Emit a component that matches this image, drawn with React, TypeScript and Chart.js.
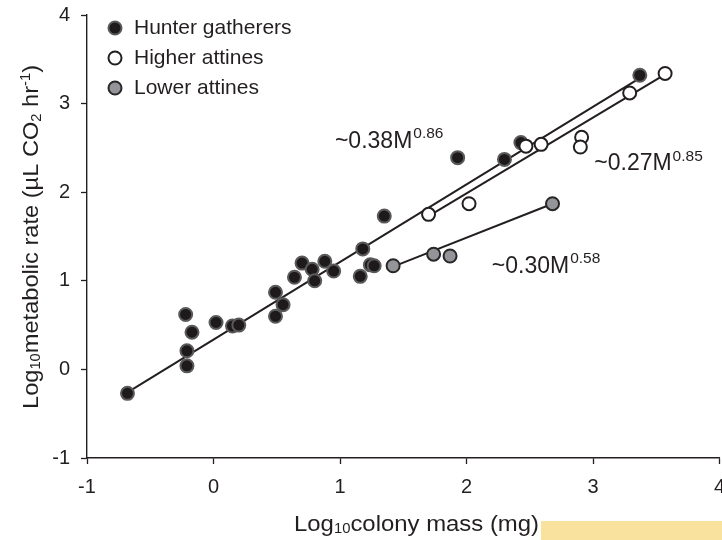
import React, { useEffect, useRef } from 'react';
import { Chart, registerables } from 'chart.js';

Chart.register(...registerables);

const FONT = '"Liberation Sans", Arial, Helvetica, sans-serif';
const INK = '#231f20';

// ---- data (log10 colony mass, log10 metabolic rate) ----
const hunterX = [-0.68, -0.22, -0.17, -0.21, -0.21, 0.02, 0.15, 0.2, 0.49, 0.55, 0.49, 0.64, 0.7, 0.78, 0.88, 0.8, 0.95, 1.16, 1.24, 1.27, 1.18, 1.35, 1.93, 2.3, 2.43, 3.37];
const hunterY = [-0.27, 0.62, 0.42, 0.21, 0.04, 0.53, 0.49, 0.5, 0.87, 0.73, 0.6, 1.04, 1.2, 1.13, 1.22, 1.0, 1.11, 1.05, 1.18, 1.17, 1.36, 1.73, 2.39, 2.37, 2.56, 3.32];

const higherX = [1.7, 2.02, 2.47, 2.59, 2.91, 2.9, 3.29, 3.57];
const higherY = [1.75, 1.87, 2.52, 2.54, 2.62, 2.51, 3.12, 3.34];

const lowerX = [1.42, 1.74, 1.87, 2.68];
const lowerY = [1.17, 1.3, 1.28, 1.87];

// fitted lines (end points)
const hunterFitX = [-0.68, 3.36];
const hunterFitY = [-0.26, 3.28];
const higherFitX = [1.7, 3.57];
const higherFitY = [1.73, 3.33];
const lowerFitX = [1.42, 2.68];
const lowerFitY = [1.16, 1.87];

const seriesNames = ['Hunter gatherers', 'Higher attines', 'Lower attines'];

const xTicks = [-1, 0, 1, 2, 3, 4];
const xTickLabels = ['-1', '0', '1', '2', '3', '4'];
const yTicks = [-1, 0, 1, 2, 3, 4];
const yTickLabels = ['-1', '0', '1', '2', '3', '4'];

// equation annotations
const eqText = ['~0.38M', '~0.27M', '~0.30M'];
const eqExp = ['0.86', '0.85', '0.58'];
const eqAtX = [0.96, 3.01, 2.2];
const eqAtY = [2.5, 2.25, 1.09];

const pts = (xs: number[], ys: number[]) => xs.map((x, i) => ({ x, y: ys[i] }));

type Seg = { t: string; size: number; dy: number; gap?: number };

function richWidth(ctx: CanvasRenderingContext2D, segs: Seg[]) {
  let w = 0;
  for (const s of segs) {
    ctx.font = `${s.size}px ${FONT}`;
    w += ctx.measureText(s.t).width + (s.gap || 0);
  }
  return w;
}

// draws segments starting at (x, y); if target > 0, stretches along the text to that length
function drawRich(ctx: CanvasRenderingContext2D, segs: Seg[], x: number, y: number, target = 0) {
  const total = richWidth(ctx, segs);
  const f = target > 0 ? target / total : 1;
  ctx.save();
  ctx.translate(x, y);
  ctx.scale(f, 1);
  let cx = 0;
  for (const s of segs) {
    ctx.font = `${s.size}px ${FONT}`;
    cx += s.gap || 0;
    ctx.fillText(s.t, cx, s.dy);
    cx += ctx.measureText(s.t).width;
  }
  ctx.restore();
}

const TITLE = 22.5;
const SMALL = 14;

const overlayPlugin = {
  id: 'overlay',
  afterDraw(chart: any) {
    const ctx: CanvasRenderingContext2D = chart.ctx;
    const xs = chart.scales.x;
    const ys = chart.scales.y;
    ctx.save();
    ctx.fillStyle = INK;
    ctx.textAlign = 'left';
    ctx.textBaseline = 'alphabetic';

    // equations
    for (let i = 0; i < eqText.length; i++) {
      drawRich(
        ctx,
        [
          { t: eqText[i], size: 23, dy: 0 },
          { t: eqExp[i], size: 15.5, dy: -9.5, gap: 1 },
        ],
        xs.getPixelForValue(eqAtX[i]),
        ys.getPixelForValue(eqAtY[i])
      );
    }

    // x axis title
    drawRich(
      ctx,
      [
        { t: 'Log', size: TITLE, dy: 0 },
        { t: '10', size: SMALL, dy: 2 },
        { t: 'colony mass (mg)', size: TITLE, dy: 0 },
      ],
      294,
      531,
      245
    );

    // y axis title
    ctx.save();
    ctx.translate(37.5, 409);
    ctx.rotate(-Math.PI / 2);
    drawRich(
      ctx,
      [
        { t: 'Log', size: TITLE, dy: 0 },
        { t: '10', size: SMALL, dy: 2 },
        { t: 'metabolic rate (\u00b5L CO', size: TITLE, dy: 0 },
        { t: '2', size: SMALL, dy: 3 },
        { t: ' hr', size: TITLE, dy: 0 },
        { t: '-1', size: SMALL, dy: -8 },
        { t: ')', size: TITLE, dy: 0 },
      ],
      0,
      0,
      344
    );
    ctx.restore();

    // legend
    const legendOrder = [1, 0, 2]; // dataset indices for hunter, higher, lower
    legendOrder.forEach((di, i) => {
      const ds = chart.data.datasets[di];
      const cy = 28 + 30 * i;
      ctx.beginPath();
      ctx.arc(115, cy, ds.pointRadius, 0, Math.PI * 2);
      ctx.fillStyle = ds.backgroundColor;
      ctx.fill();
      ctx.lineWidth = ds.borderWidth;
      ctx.strokeStyle = ds.borderColor;
      ctx.stroke();
      ctx.fillStyle = INK;
      ctx.font = `21px ${FONT}`;
      ctx.fillText(ds.label, 134, cy + 5.5);
    });

    ctx.restore();
  },
};

// canvas is a little wider than the visible frame so the last x label is clipped like the original
const CANVAS_W = 728;

export default function App() {
  const ref = useRef<HTMLCanvasElement | null>(null);

  useEffect(() => {
    document.body.style.margin = '0';
    if (!ref.current) return;
    const axisCommon = (ticks: number[], labels: string[]) => ({
      type: 'linear' as const,
      min: ticks[0],
      max: ticks[ticks.length - 1],
      afterBuildTicks: (s: any) => {
        s.ticks = ticks.map((v) => ({ value: v }));
      },
      ticks: {
        padding: 11,
        color: INK,
        font: { size: 20, family: FONT },
        callback: (v: any) => {
          const k = ticks.indexOf(Number(v));
          return k >= 0 ? labels[k] : '';
        },
      },
      grid: {
        drawOnChartArea: false,
        drawTicks: true,
        tickLength: 6,
        tickWidth: 1.3,
        tickColor: INK,
      },
      border: { display: true, color: INK, width: 1.4 },
    });

    const chart = new Chart(ref.current, {
      type: 'scatter',
      data: {
        datasets: [
          {
            label: seriesNames[1],
            data: pts(higherX, higherY),
            backgroundColor: '#ffffff',
            borderColor: INK,
            borderWidth: 2,
            pointRadius: 6.5,
          },
          {
            label: seriesNames[0],
            data: pts(hunterX, hunterY),
            backgroundColor: '#1e1a1b',
            borderColor: '#5a5a5c',
            borderWidth: 2,
            pointRadius: 6.5,
          },
          {
            label: seriesNames[2],
            data: pts(lowerX, lowerY),
            backgroundColor: '#939598',
            borderColor: '#2a2627',
            borderWidth: 2,
            pointRadius: 6.5,
          },
          {
            label: 'fit hunter',
            data: pts(hunterFitX, hunterFitY),
            showLine: true,
            borderColor: INK,
            borderWidth: 2,
            pointRadius: 0,
          },
          {
            label: 'fit higher',
            data: pts(higherFitX, higherFitY),
            showLine: true,
            borderColor: INK,
            borderWidth: 2,
            pointRadius: 0,
          },
          {
            label: 'fit lower',
            data: pts(lowerFitX, lowerFitY),
            showLine: true,
            borderColor: INK,
            borderWidth: 2,
            pointRadius: 0,
          },
        ],
      },
      options: {
        responsive: false,
        animation: false,
        layout: { padding: { top: 15, right: 0, left: 0, bottom: 0 } },
        plugins: {
          legend: { display: false },
          tooltip: { enabled: false },
        },
        scales: {
          x: {
            ...axisCommon(xTicks, xTickLabels),
            afterFit: (s: any) => {
              s.height = 82;
              s.paddingLeft = 0;
              s.paddingRight = 0;
            },
          },
          y: {
            ...axisCommon(yTicks, yTickLabels),
            afterFit: (s: any) => {
              s.width = 87;
              s.paddingTop = 0;
              s.paddingBottom = 0;
            },
          },
        },
      },
      plugins: [overlayPlugin],
    } as any);
    return () => chart.destroy();
  }, []);

  return (
    <div style={{ position: 'relative', width: 722, height: 540, background: '#fff', overflow: 'hidden' }}>
      <canvas ref={ref} width={CANVAS_W} height={540} style={{ display: 'block' }} />
      <div
        style={{
          position: 'absolute',
          left: 541,
          top: 521,
          width: 181,
          height: 19,
          background: '#f8e29e',
        }}
      />
    </div>
  );
}
